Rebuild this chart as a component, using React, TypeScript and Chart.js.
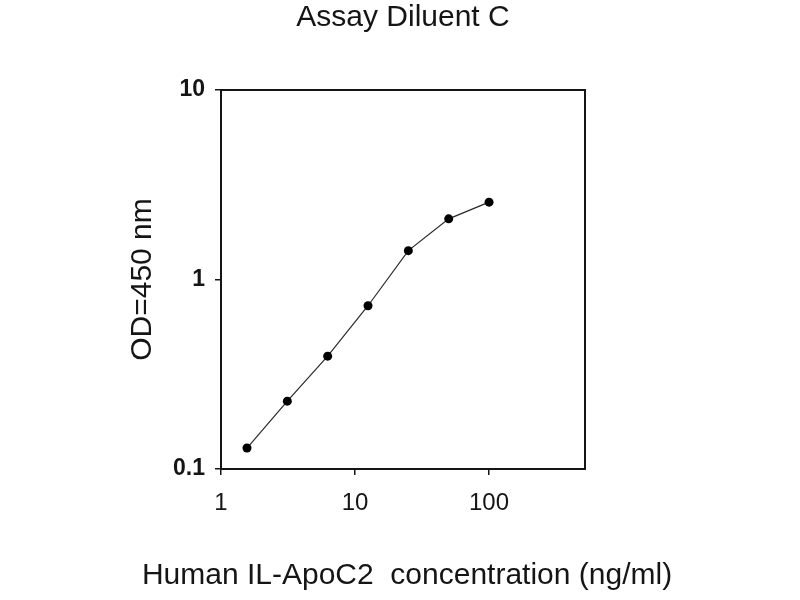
import { Chart, registerables } from "chart.js";
import { useEffect, useRef } from "react";

Chart.register(...registerables);

const concentrations = [1.5625, 3.125, 6.25, 12.5, 25, 50, 100];
const odValues = [0.129, 0.228, 0.394, 0.727, 1.42, 2.09, 2.56];
const xTicks = [1, 10, 100];
const yTicks = [0.1, 1, 10];

const chartTitle = "Assay Diluent C";
const xTitle = "Human IL-ApoC2  concentration (ng/ml)";
const yTitle = "OD=450 nm";

const ink = "#151515";
const fontFamily = '"Liberation Sans", Arial, sans-serif';

// box around the plot area (all four sides)
const frame = {
    id: "frame",
    beforeDatasetsDraw(chart: any) {
        const { ctx, chartArea: a } = chart;
        ctx.save();
        ctx.strokeStyle = ink;
        ctx.lineWidth = 2;
        ctx.strokeRect(a.left, a.top, a.right - a.left, a.bottom - a.top);
        ctx.restore();
    },
};

// chart title and x-axis title centred on the plot, at full width
const captions = {
    id: "captions",
    afterDraw(chart: any) {
        const { ctx, chartArea: a } = chart;
        const cx = (a.left + a.right) / 2;
        ctx.save();
        ctx.fillStyle = ink;
        ctx.font = `30px ${fontFamily}`;
        ctx.textAlign = "center";
        ctx.textBaseline = "middle";
        ctx.fillText(chartTitle, cx, a.top - 72);
        ctx.fillText(xTitle, cx + 4, a.bottom + 107);
        ctx.restore();
    },
};

export default function App() {
    const canvasRef = useRef<HTMLCanvasElement>(null);

    useEffect(() => {
        const el = canvasRef.current;
        if (el == null) return;
        Chart.defaults.font.family = fontFamily;
        Chart.defaults.color = ink;
        const chart = new Chart(el, {
            type: "scatter",
            data: {
                datasets: [{
                    data: concentrations.map((c, i) => ({ x: c, y: odValues[i] })),
                    showLine: true,
                    borderColor: "#2a2a2a",
                    borderWidth: 1.2,
                    pointRadius: 4.5,
                    pointBackgroundColor: "#000",
                    pointBorderColor: "#000",
                    pointBorderWidth: 0,
                }],
            },
            options: {
                animation: false,
                responsive: true,
                maintainAspectRatio: false,
                layout: { padding: { left: 110, right: 215, top: 90, bottom: 0 } },
                plugins: {
                    legend: { display: false },
                    tooltip: { enabled: false },
                },
                scales: {
                    x: {
                        type: "logarithmic",
                        min: 1,
                        max: 520,
                        afterBuildTicks: (s: any) => { s.ticks = xTicks.map(v => ({ value: v })) },
                        afterFit: (s: any) => { s.height = 131 },
                        border: { display: false },
                        grid: { drawOnChartArea: false, drawTicks: true, tickLength: 6, color: ink, lineWidth: 1.5 },
                        ticks: {
                            autoSkip: false,
                            maxRotation: 0,
                            padding: 14,
                            font: { size: 24 },
                            callback: (v: any) => String(v),
                        },
                    },
                    y: {
                        type: "logarithmic",
                        min: 0.1,
                        max: 10,
                        afterBuildTicks: (s: any) => { s.ticks = yTicks.map(v => ({ value: v })) },
                        afterFit: (s: any) => { s.width = 111 },
                        border: { display: false },
                        grid: { drawOnChartArea: false, drawTicks: true, tickLength: 6, color: ink, lineWidth: 1.5 },
                        ticks: {
                            autoSkip: false,
                            padding: 10,
                            font: { size: 23, weight: "bold" },
                            callback: (v: any) => String(v),
                        },
                        title: {
                            display: true,
                            text: yTitle,
                            font: { size: 30 },
                            padding: { top: 15, bottom: 0 },
                        },
                    },
                },
            },
            plugins: [frame, captions],
        });
        return () => chart.destroy();
    }, []);

    return (
        <div style={{ position: "fixed", left: 0, top: 0, width: 800, height: 600, background: "#fff" }}>
            <canvas ref={canvasRef} />
        </div>
    );
}
